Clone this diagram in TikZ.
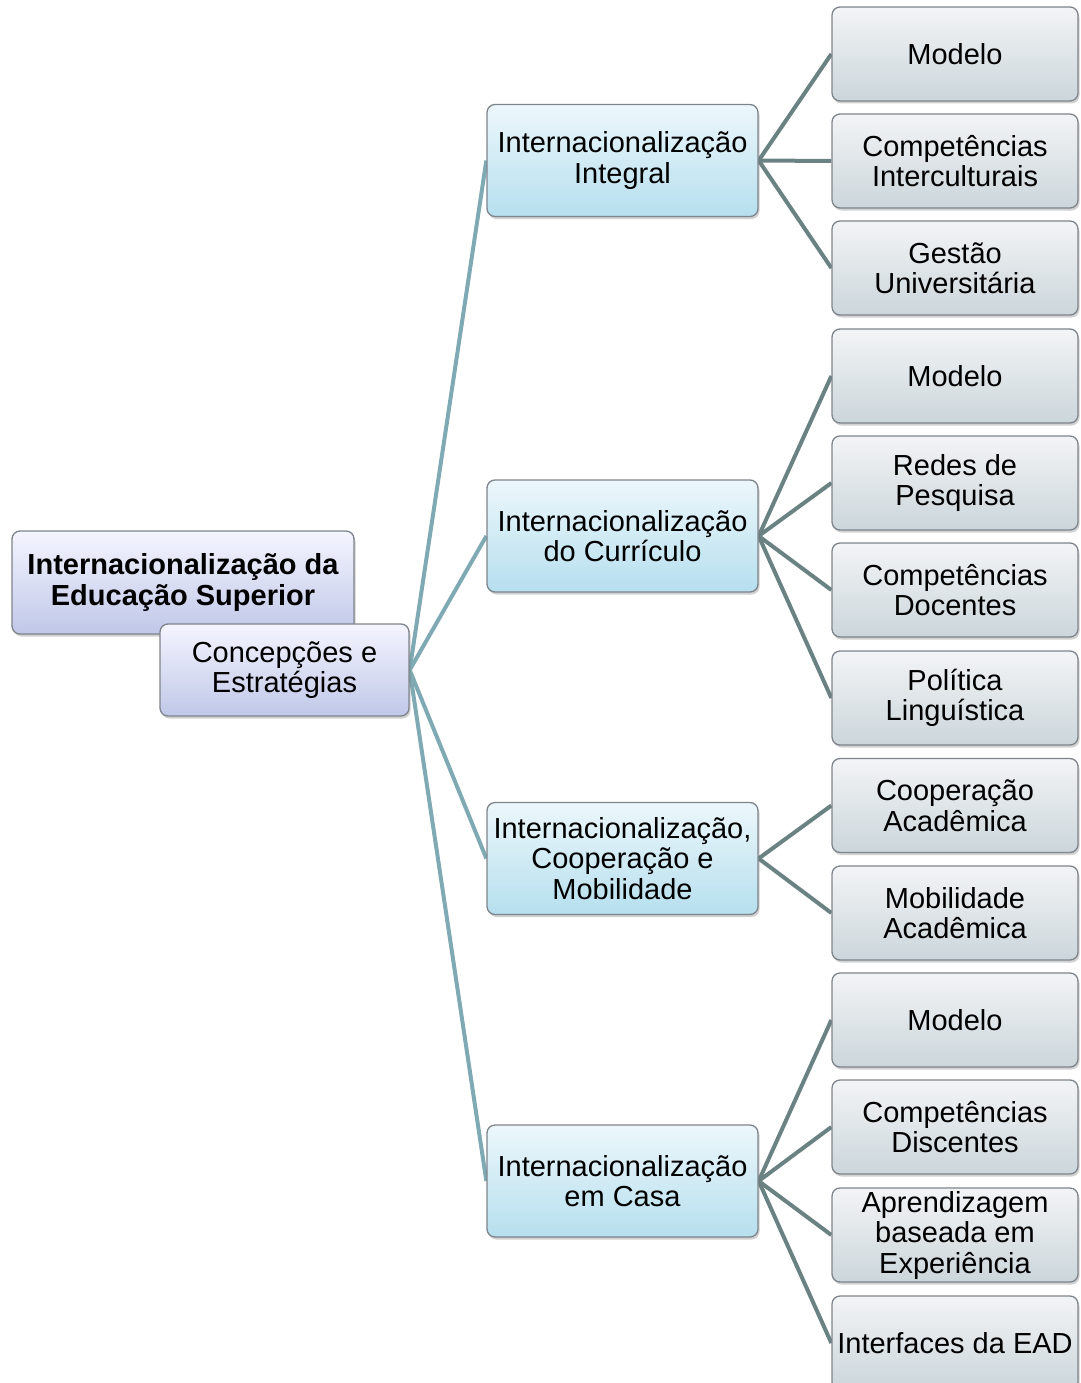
\documentclass[tikz,border=0pt]{standalone}
\usepackage{fontspec}
\setmainfont{Liberation Sans}
\usetikzlibrary{shadows,backgrounds}
\definecolor{linkA}{HTML}{80AAB3}
\definecolor{linkB}{HTML}{6B8282}
\definecolor{bordr}{HTML}{7E848C}
\tikzset{
  box/.style={draw=bordr, line width=1.3pt, rounded corners=8pt, align=center, inner sep=0pt,
    font=\fontsize{29}{30.5}\selectfont,
    drop shadow={shadow xshift=1.5pt, shadow yshift=-2.5pt, opacity=.3, fill=black!60}},
  rootbox/.style={box, top color=blue!4!white, bottom color={rgb,255:red,192;green,200;blue,232}},
  lvltwo/.style={box, minimum width=271pt, minimum height=112pt,
    top color={rgb,255:red,236;green,247;blue,251}, bottom color={rgb,255:red,182;green,223;blue,238}},
  lvlthree/.style={box, minimum width=246pt, minimum height=94pt,
    top color={rgb,255:red,243;green,244;blue,246}, bottom color={rgb,255:red,203;green,214;blue,219}},
  linka/.style={draw=linkA, line width=4pt},
  linkb/.style={draw=linkB, line width=4pt}
}
\begin{document}
\begin{tikzpicture}[x=1pt,y=-1pt]
\useasboundingbox (0,0) rectangle (1080,1383);
\clip (0,0) rectangle (1080,1383);
% root
\node[rootbox, minimum width=342pt, minimum height=103pt] (root) at (183,582.5) {\bfseries Internacionalização da\\\bfseries Educação Superior};
\node[rootbox, minimum width=249pt, minimum height=92pt] (conc) at (284.5,670) {Concepções e\\Estratégias};
% level two
\node[lvltwo] (integral) at (622.5,160.5) {Internacionalização\\Integral};
\node[lvltwo] (curr) at (622.5,536) {Internacionalização\\do Currículo};
\node[lvltwo] (coop) at (622.5,858.5) {Internacionalização,\\Cooperação e\\Mobilidade};
\node[lvltwo] (casa) at (622.5,1181) {Internacionalização\\em Casa};
% level three
\node[lvlthree] (a1) at (955,54) {Modelo};
\node[lvlthree] (a2) at (955,161) {Competências\\Interculturais};
\node[lvlthree] (a3) at (955,268) {Gestão\\Universitária};
\node[lvlthree] (b1) at (955,376) {Modelo};
\node[lvlthree] (b2) at (955,483) {Redes de\\Pesquisa};
\node[lvlthree] (b3) at (955,590) {Competências\\Docentes};
\node[lvlthree] (b4) at (955,698) {Política\\Linguística};
\node[lvlthree] (c1) at (955,805.5) {Cooperação\\Acadêmica};
\node[lvlthree] (c2) at (955,913) {Mobilidade\\Acadêmica};
\node[lvlthree] (d1) at (955,1020) {Modelo};
\node[lvlthree] (d2) at (955,1127) {Competências\\Discentes};
\node[lvlthree] (d3) at (955,1235) {Aprendizagem\\baseada em\\Experiência};
\node[lvlthree] (d4) at (955,1343) {Interfaces da EAD};
\begin{pgfonlayer}{background}
\foreach \t in {integral,curr,coop,casa}
  \path[linka] (conc.east) -- (\t.west);
\foreach \t in {a1,a2,a3}
  \path[linkb] (integral.east) -- (\t.west);
\foreach \t in {b1,b2,b3,b4}
  \path[linkb] (curr.east) -- (\t.west);
\foreach \t in {c1,c2}
  \path[linkb] (coop.east) -- (\t.west);
\foreach \t in {d1,d2,d3,d4}
  \path[linkb] (casa.east) -- (\t.west);
\end{pgfonlayer}
\end{tikzpicture}
\end{document}
